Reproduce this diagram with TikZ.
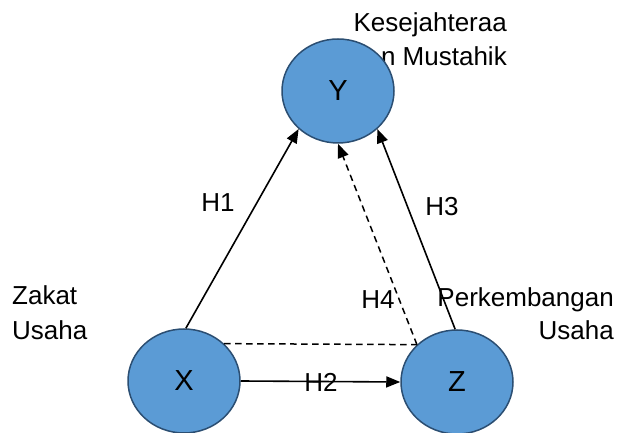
\documentclass[tikz,border=0pt]{standalone}
\usepackage{fontspec}
\setmainfont{Liberation Sans}
\usetikzlibrary{arrows.meta,shapes.geometric}
\definecolor{nodefill}{HTML}{5B9BD5}
\definecolor{nodeline}{HTML}{2B4E72}
\begin{document}
\begin{tikzpicture}[x=1pt,y=1pt,
  var/.style={ellipse, draw=nodeline, line width=1.5pt, fill=nodefill,
    minimum width=112pt, minimum height=104pt, inner sep=0pt,
    font=\fontsize{29}{29}\selectfont},
  lbl/.style={font=\fontsize{26}{34.5}\selectfont, inner sep=0pt},
  tip/.style={-{Triangle[length=14pt,width=11pt]}},
  conn/.style={line width=1.6pt, tip},
  dconn/.style={line width=1.5pt, dash pattern=on 6.5pt off 4.5pt}
]
\useasboundingbox (0,0) rectangle (621,433);
% descriptive texts
\node[lbl, anchor=base east] (t1) at (507,401) {Kesejahteraa};
\node[lbl, anchor=base east] (t2) at (507,367) {n Mustahik};
\node[lbl, anchor=base west] (t3) at (12,128) {Zakat};
\node[lbl, anchor=base west] (t4) at (12,93) {Usaha};
\node[lbl, anchor=base east] (t5) at (614,126) {Perkembangan};
\node[lbl, anchor=base east] (t6) at (614,93) {Usaha};
% variables
\node[var] (Y) at (338,342) {Y};
\node[var] (X) at (184,52) {X};
\node[var] (Z) at (457,51) {Z};
% connectors
\draw[conn] (X.88) -- (Y.224);
\draw[conn] (Z.92) -- (Y.316);
\draw[conn] (X.east) -- (Z.west);
\coordinate (zc) at (Z.137);
\draw[dconn] (X.43) -- (zc);
\draw[dconn, tip] (zc) -- (Y.south);
% hypothesis labels
\node[lbl] (h1) at (218,230) {H1};
\node[lbl] (h3) at (442,226) {H3};
\node[lbl] (h4) at (378,133) {H4};
\node[lbl] (h2) at (321,51) {H2};
\end{tikzpicture}
\end{document}
